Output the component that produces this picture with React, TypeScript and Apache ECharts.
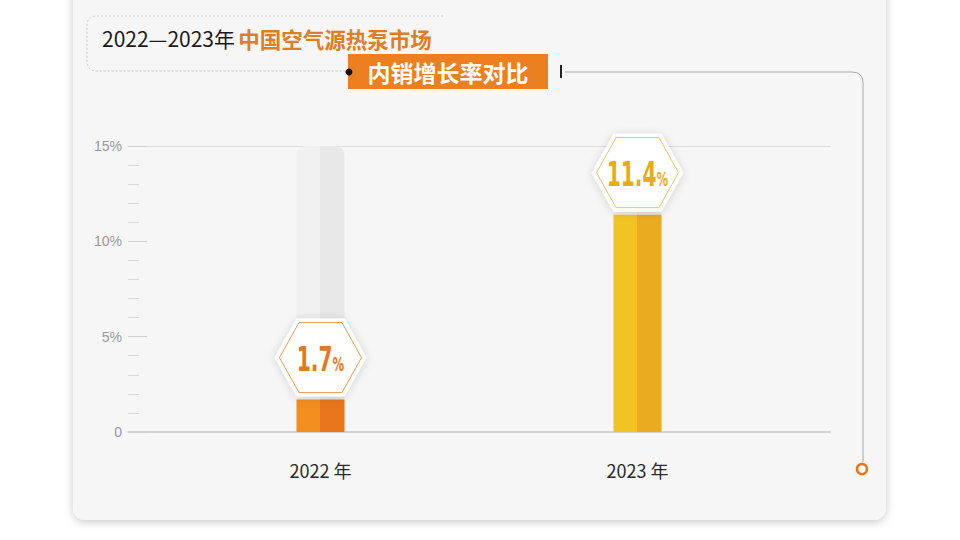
import React, { useEffect, useRef } from "react";
import * as echarts from "echarts";

// ---- data ----
const categories: string[] = ["2022 年", "2023 年"];
const growthRates: number[] = [1.7, 11.4];
const yTicks: number[] = [0, 5, 10, 15];
const titleMain = "2022—2023年";
const titleOrange = "中国空气源热泵市场";
const subtitle = "内销增长率对比";

// ---- styles ----
const barColors = [
  ["#f28d1f", "#e8751b"],
  ["#f0c425", "#ebab21"],
];
const hexStroke = ["#ec9a4a", "#ebc46a"];
const hexText = ["#e8761a", "#e9a91a"];

const CJK = '"Noto Sans CJK SC", "Noto Sans", sans-serif';
const NARROW = '"Liberation Sans Narrow", "DejaVu Sans Condensed", "Roboto Condensed", sans-serif';

echarts.graphic.registerShape(
  "titleFrame",
  echarts.graphic.extendPath("M443 16 H97 Q87 16 87 26 V61 Q87 71 97 71 H348", {})
);
echarts.graphic.registerShape(
  "connector",
  echarts.graphic.extendPath("M565 72 H852 Q863 72 863 83 V462", {})
);

function twoTone(c1: string, c2: string) {
  return new echarts.graphic.LinearGradient(0, 0, 1, 0, [
    { offset: 0, color: c1 },
    { offset: 0.5, color: c1 },
    { offset: 0.5, color: c2 },
    { offset: 1, color: c2 },
  ]);
}

export default function App() {
  const ref = useRef<HTMLDivElement>(null);

  useEffect(() => {
    if (!ref.current) return;
    const chart = echarts.init(ref.current, null, { renderer: "svg" });

    const option: any = {
      animation: false,
      backgroundColor: "#ffffff",
      graphic: [
        {
          type: "rect",
          z: -10,
          shape: { x: 73, y: -20, width: 813, height: 540, r: 12 },
          style: {
            fill: "#f6f6f6",
            shadowBlur: 8,
            shadowColor: "rgba(0,0,0,0.22)",
            shadowOffsetY: 2,
          },
        },
        {
          type: "titleFrame",
          z: 1,
          style: { fill: null, stroke: "#c8c8c8", lineWidth: 1, lineDash: [2, 2] },
        },
        {
          type: "text",
          z: 2,
          x: 102,
          y: 38,
          style: {
            text: "{a|" + titleMain + "} {b|" + titleOrange + "}",
            verticalAlign: "middle",
            rich: {
              a: { fontSize: 21, fontFamily: CJK, fill: "#1a1a1a" },
              b: { fontSize: 21.5, fontFamily: CJK, fontWeight: "bold", fill: "#e07c22" },
            },
          },
        },
        {
          type: "rect",
          z: 2,
          shape: { x: 348, y: 54, width: 200, height: 35 },
          style: { fill: "#ec7f1f" },
        },
        {
          type: "text",
          z: 3,
          x: 448,
          y: 72,
          style: {
            text: subtitle,
            align: "center",
            verticalAlign: "middle",
            fontSize: 23,
            fontWeight: "bold",
            fontFamily: CJK,
            fill: "#ffffff",
          },
        },
        {
          type: "circle",
          z: 4,
          shape: { cx: 349, cy: 72, r: 3.5 },
          style: { fill: "#111111" },
        },
        {
          type: "rect",
          z: 2,
          shape: { x: 560, y: 65, width: 2, height: 13 },
          style: { fill: "#222222" },
        },
        {
          type: "connector",
          z: 1,
          style: { fill: null, stroke: "#a8a8a8", lineWidth: 1 },
        },
        {
          type: "circle",
          z: 2,
          shape: { cx: 862, cy: 469, r: 5 },
          style: { fill: "#ffffff", stroke: "#e8761a", lineWidth: 2.5 },
        },
      ],
      grid: [
        { left: 128, right: 130, top: 146, bottom: 108 },
        { left: 162, right: 164, top: 146, bottom: 108 },
      ],
      xAxis: [
        {
          type: "value",
          gridIndex: 0,
          min: 0,
          max: 1,
          position: "bottom",
          axisLine: { show: true, onZero: false, lineStyle: { color: "#c6c6c6", width: 1.5 } },
          axisTick: { show: false },
          axisLabel: { show: false },
          splitLine: { show: false },
        },
        {
          type: "value",
          gridIndex: 0,
          min: 0,
          max: 1,
          position: "top",
          axisLine: { show: true, onZero: false, lineStyle: { color: "#dddddd", width: 1 } },
          axisTick: { show: false },
          axisLabel: { show: false },
          splitLine: { show: false },
        },
        {
          type: "category",
          gridIndex: 1,
          data: categories,
          axisLine: { show: false },
          axisTick: { show: false },
          axisLabel: { color: "#2a2a2a", fontSize: 18, fontFamily: CJK, margin: 29 },
          splitLine: { show: false },
        },
      ],
      yAxis: [
        {
          type: "value",
          gridIndex: 0,
          min: yTicks[0],
          max: yTicks[yTicks.length - 1],
          interval: yTicks[1] - yTicks[0],
          axisLine: { show: false },
          axisTick: { show: true, inside: true, length: 19, lineStyle: { color: "#cfcfcf" } },
          minorTick: { show: true, splitNumber: 5, length: 11, lineStyle: { color: "#d8d8d8" } },
          splitLine: { show: false },
          axisLabel: {
            color: "#9a9a9a",
            fontSize: 14,
            fontFamily: '"Liberation Sans", Arial, sans-serif',
            margin: 6,
            formatter: (v: number) => (v === 0 ? "0" : v + "%"),
          },
        },
        {
          type: "value",
          gridIndex: 1,
          min: yTicks[0],
          max: yTicks[yTicks.length - 1],
          show: false,
        },
      ],
      series: [
        {
          type: "bar",
          xAxisIndex: 2,
          yAxisIndex: 1,
          barWidth: 48,
          z: 3,
          showBackground: true,
          backgroundStyle: {
            color: twoTone("#f0f0f0", "#e8e8e8"),
            borderRadius: [9, 9, 0, 0],
          },
          data: growthRates.map((v, i) => ({
            value: v,
            itemStyle: { color: twoTone(barColors[i][0], barColors[i][1]) },
          })),
        },
        {
          type: "custom",
          xAxisIndex: 2,
          yAxisIndex: 1,
          z: 6,
          data: growthRates.map((v, i) => [i, v]),
          encode: { x: 0, y: 1 },
          renderItem: (params: any, api: any) => {
            const idx = api.value(0);
            const val = api.value(1);
            const pt = api.coord([idx, val]);
            const cx = pt[0];
            const cy = pt[1] - 3 - 39;
            const hex = (hw: number, hh: number, tw: number) => [
              [cx - hw, cy],
              [cx - tw, cy - hh],
              [cx + tw, cy - hh],
              [cx + hw, cy],
              [cx + tw, cy + hh],
              [cx - tw, cy + hh],
            ];
            const label = String(val);
            return {
              type: "group",
              children: [
                {
                  type: "polygon",
                  shape: { points: hex(46, 39, 24) },
                  style: {
                    fill: "#ffffff",
                    shadowBlur: 8,
                    shadowColor: "rgba(0,0,0,0.15)",
                    shadowOffsetY: 1,
                  },
                },
                {
                  type: "polygon",
                  shape: { points: hex(41, 35, 21.5) },
                  style: { fill: "#ffffff", stroke: hexStroke[idx], lineWidth: 1 },
                },
                {
                  type: "text",
                  x: cx,
                  y: cy + 2,
                  scaleX: 0.68,
                  originX: 0,
                  originY: 0,
                  style: {
                    text: "{n|" + label + "}{p|%}",
                    align: "center",
                    verticalAlign: "middle",
                    rich: {
                      n: {
                        fontSize: 33,
                        fontWeight: "bold",
                        fontFamily: NARROW,
                        fill: hexText[idx],
                        verticalAlign: "bottom",
                      },
                      p: {
                        fontSize: 19,
                        fontWeight: "bold",
                        fontFamily: NARROW,
                        fill: hexText[idx],
                        verticalAlign: "bottom",
                        padding: [0, 0, 2, 0],
                      },
                    },
                  },
                },
              ],
            };
          },
        },
      ],
    };

    chart.setOption(option);
    return () => chart.dispose();
  }, []);

  return (
    <div
      ref={ref}
      style={{ position: "fixed", left: 0, top: 0, width: 960, height: 540 }}
    />
  );
}
